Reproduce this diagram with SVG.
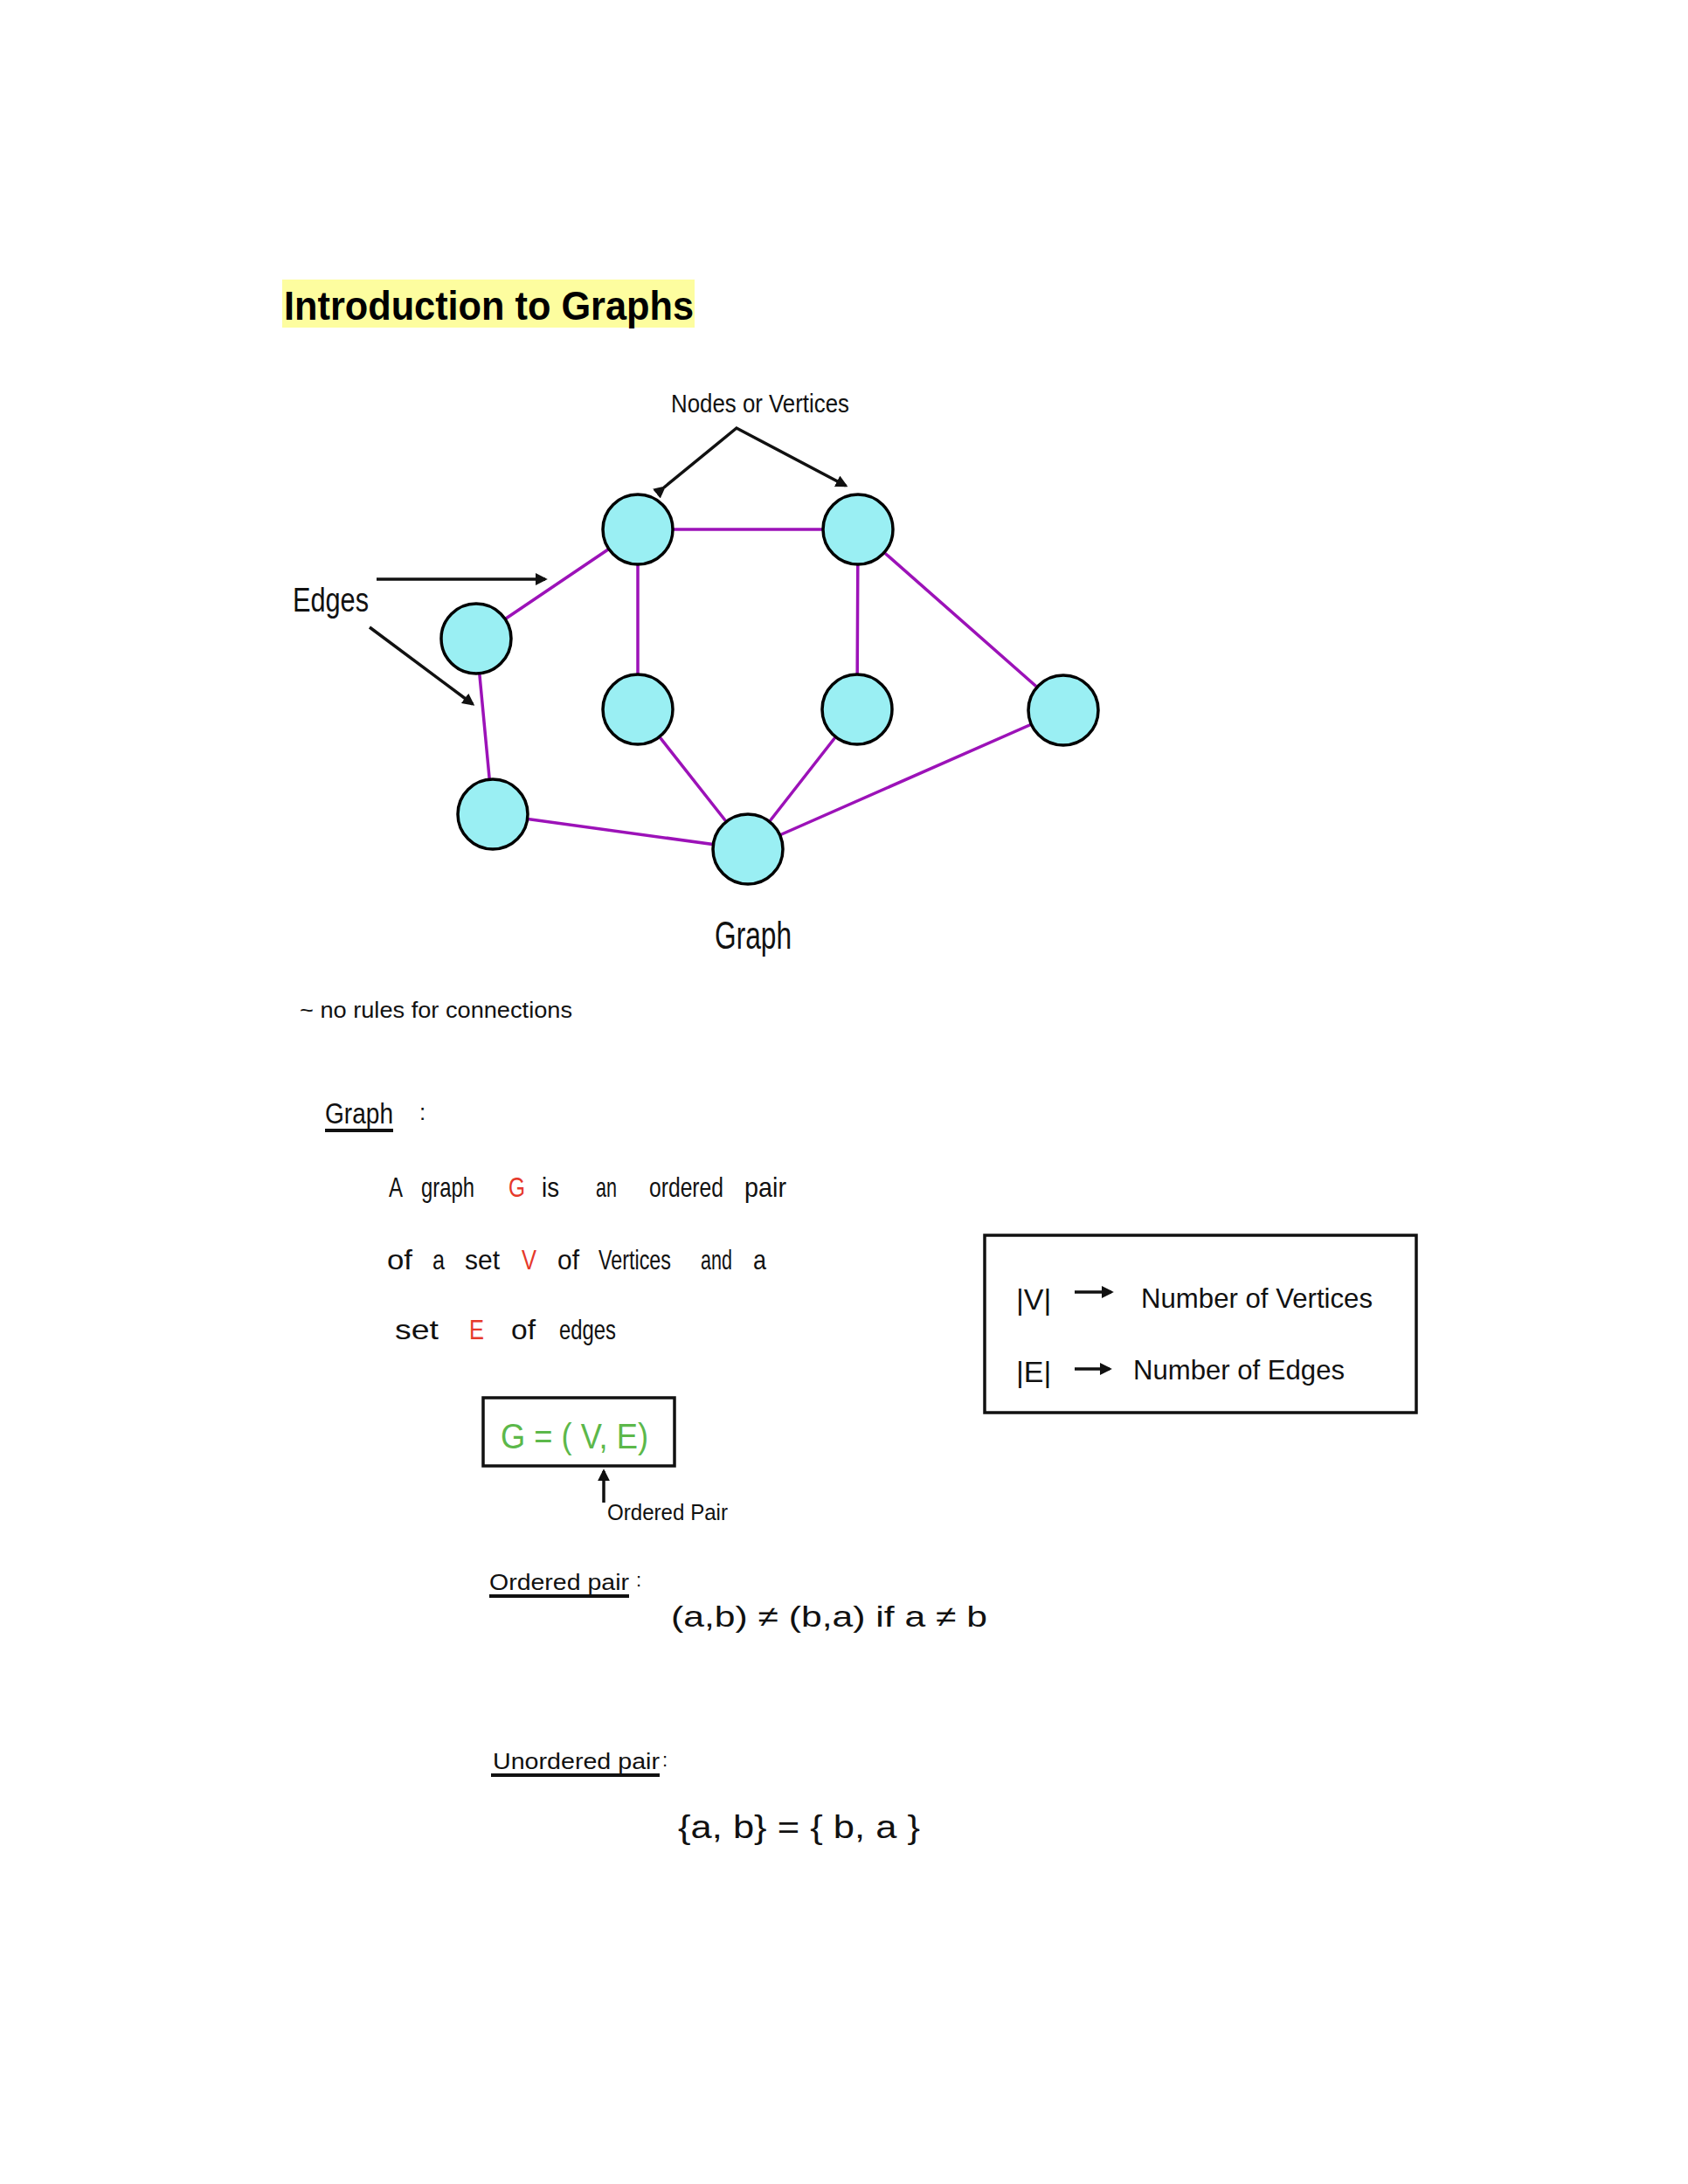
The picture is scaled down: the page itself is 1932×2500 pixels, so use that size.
<svg xmlns="http://www.w3.org/2000/svg" width="1932" height="2500" viewBox="0 0 1932 2500">
<style>
.hw{font-family:"Liberation Sans","DejaVu Sans",sans-serif;fill:#111;}
.node{fill:#9aeff3;stroke:#000;stroke-width:3.5;}
.edge{stroke:#9c12b8;stroke-width:3.5;stroke-linecap:round;}
.arr{stroke:#111;stroke-width:3.5;fill:none;}
.red{fill:#e6392b;}
.grn{fill:#5cb84a;}
.box{fill:none;stroke:#111;stroke-width:3.5;}
.d{font-size:32px;}
</style>
<defs>
<marker id="ah" viewBox="0 0 10 10" refX="8" refY="5" markerWidth="4" markerHeight="4" orient="auto" markerUnits="strokeWidth">
<path d="M0,0 L10,5 L0,10 z" fill="#111"/>
</marker>
</defs>
<rect width="1932" height="2500" fill="#fff"/>
<g id="title">
<rect x="323" y="320" width="472" height="55" fill="#fdfd9f"/>
<text x="325" y="366" font-family="Liberation Sans, Arial, sans-serif" font-weight="bold" font-size="46" fill="#000" textLength="469" lengthAdjust="spacingAndGlyphs">Introduction to Graphs</text>
</g>
<g id="connectors">
<line class="edge" x1="730" y1="606" x2="982" y2="606"/>
<line class="edge" x1="730" y1="606" x2="545" y2="731"/>
<line class="edge" x1="730" y1="606" x2="730" y2="812"/>
<line class="edge" x1="982" y1="606" x2="981" y2="812"/>
<line class="edge" x1="982" y1="606" x2="1217" y2="813"/>
<line class="edge" x1="545" y1="731" x2="564" y2="932"/>
<line class="edge" x1="730" y1="812" x2="856" y2="972"/>
<line class="edge" x1="981" y1="812" x2="856" y2="972"/>
<line class="edge" x1="1217" y1="813" x2="856" y2="972"/>
<line class="edge" x1="564" y1="932" x2="856" y2="972"/>
<path class="arr" d="M760,558 L843,490 L968,556" marker-start="url(#ah)" marker-end="url(#ah)"/>
<line class="arr" x1="431" y1="663" x2="624" y2="663" marker-end="url(#ah)"/>
<line class="arr" x1="423" y1="718" x2="541" y2="806" marker-end="url(#ah)"/>
<line class="arr" x1="691" y1="1720" x2="691" y2="1684" marker-end="url(#ah)"/>
<line class="arr" x1="1230" y1="1479" x2="1272" y2="1479" marker-end="url(#ah)"/>
<line class="arr" x1="1230" y1="1567" x2="1270" y2="1567" marker-end="url(#ah)"/>
</g>
<g id="nodeA"><circle class="node" cx="730" cy="606" r="40"/></g>
<g id="nodeB"><circle class="node" cx="982" cy="606" r="40"/></g>
<g id="nodeC"><circle class="node" cx="545" cy="731" r="40"/></g>
<g id="nodeD"><circle class="node" cx="730" cy="812" r="40"/></g>
<g id="nodeE"><circle class="node" cx="981" cy="812" r="40"/></g>
<g id="nodeF"><circle class="node" cx="1217" cy="813" r="40"/></g>
<g id="nodeG"><circle class="node" cx="564" cy="932" r="40"/></g>
<g id="nodeH"><circle class="node" cx="856" cy="972" r="40"/></g>
<g id="labels">
<text class="hw" x="768" y="472" font-size="30" textLength="204" lengthAdjust="spacingAndGlyphs">Nodes or Vertices</text>
<text class="hw" x="335" y="700" font-size="38" textLength="87" lengthAdjust="spacingAndGlyphs">Edges</text>
<text class="hw" x="818" y="1086" font-size="44" textLength="88" lengthAdjust="spacingAndGlyphs">Graph</text>
<text class="hw" x="343" y="1165" font-size="26" textLength="312" lengthAdjust="spacingAndGlyphs">~ no rules for  connections</text>
</g>
<g id="definition">
<text class="hw" x="372" y="1286" font-size="34" textLength="78" lengthAdjust="spacingAndGlyphs">Graph</text>
<line x1="372" y1="1294" x2="450" y2="1294" stroke="#111" stroke-width="4"/>
<text class="hw" x="480" y="1282" font-size="26">:</text>
<text class="hw d" x="445" y="1370" textLength="16" lengthAdjust="spacingAndGlyphs">A</text>
<text class="hw d" x="482" y="1370" textLength="61" lengthAdjust="spacingAndGlyphs">graph</text>
<text class="hw d red" x="582" y="1370" textLength="19" lengthAdjust="spacingAndGlyphs">G</text>
<text class="hw d" x="620" y="1370" textLength="20" lengthAdjust="spacingAndGlyphs">is</text>
<text class="hw d" x="682" y="1370" textLength="24" lengthAdjust="spacingAndGlyphs">an</text>
<text class="hw d" x="743" y="1370" textLength="85" lengthAdjust="spacingAndGlyphs">ordered</text>
<text class="hw d" x="852" y="1370" textLength="48" lengthAdjust="spacingAndGlyphs">pair</text>
<text class="hw d" x="443" y="1453" textLength="29" lengthAdjust="spacingAndGlyphs">of</text>
<text class="hw d" x="495" y="1453" textLength="14" lengthAdjust="spacingAndGlyphs">a</text>
<text class="hw d" x="532" y="1453" textLength="40" lengthAdjust="spacingAndGlyphs">set</text>
<text class="hw d red" x="597" y="1453" textLength="17" lengthAdjust="spacingAndGlyphs">V</text>
<text class="hw d" x="638" y="1453" textLength="25" lengthAdjust="spacingAndGlyphs">of</text>
<text class="hw d" x="685" y="1453" textLength="83" lengthAdjust="spacingAndGlyphs">Vertices</text>
<text class="hw d" x="802" y="1453" textLength="36" lengthAdjust="spacingAndGlyphs">and</text>
<text class="hw d" x="862" y="1453" textLength="15" lengthAdjust="spacingAndGlyphs">a</text>
<text class="hw d" x="452" y="1533" textLength="50" lengthAdjust="spacingAndGlyphs">set</text>
<text class="hw d red" x="537" y="1533" textLength="17" lengthAdjust="spacingAndGlyphs">E</text>
<text class="hw d" x="585" y="1533" textLength="28" lengthAdjust="spacingAndGlyphs">of</text>
<text class="hw d" x="640" y="1533" textLength="65" lengthAdjust="spacingAndGlyphs">edges</text>
</g>
<g id="gbox">
<rect class="box" x="553" y="1600" width="219" height="78"/>
<text class="hw grn" x="573" y="1658" font-size="40" textLength="169" lengthAdjust="spacingAndGlyphs">G = ( V, E)</text>
<text class="hw" x="695" y="1740" font-size="26" textLength="138" lengthAdjust="spacingAndGlyphs">Ordered Pair</text>
</g>
<g id="countbox">
<rect class="box" x="1127" y="1414" width="494" height="203"/>
<text class="hw" x="1163" y="1499" font-size="34">|V|</text>
<text class="hw" x="1306" y="1497" font-size="32" textLength="265" lengthAdjust="spacingAndGlyphs">Number of Vertices</text>
<text class="hw" x="1163" y="1582" font-size="34">|E|</text>
<text class="hw" x="1297" y="1579" font-size="32" textLength="242" lengthAdjust="spacingAndGlyphs">Number of Edges</text>
</g>
<g id="ordered">
<text class="hw" x="560" y="1820" font-size="26" textLength="160" lengthAdjust="spacingAndGlyphs">Ordered pair</text>
<line x1="560" y1="1827" x2="720" y2="1827" stroke="#111" stroke-width="4"/>
<text class="hw" x="728" y="1816" font-size="22">:</text>
<text class="hw" x="768" y="1862" font-size="34" textLength="362" lengthAdjust="spacingAndGlyphs">(a,b) ≠ (b,a)   if  a ≠ b</text>
</g>
<g id="unordered">
<text class="hw" x="564" y="2025" font-size="26" textLength="191" lengthAdjust="spacingAndGlyphs">Unordered pair</text>
<line x1="562" y1="2032" x2="755" y2="2032" stroke="#111" stroke-width="4"/>
<text class="hw" x="758" y="2022" font-size="22">:</text>
<text class="hw" x="776" y="2104" font-size="36" textLength="277" lengthAdjust="spacingAndGlyphs">{a, b}  =  { b, a }</text>
</g>
</svg>
